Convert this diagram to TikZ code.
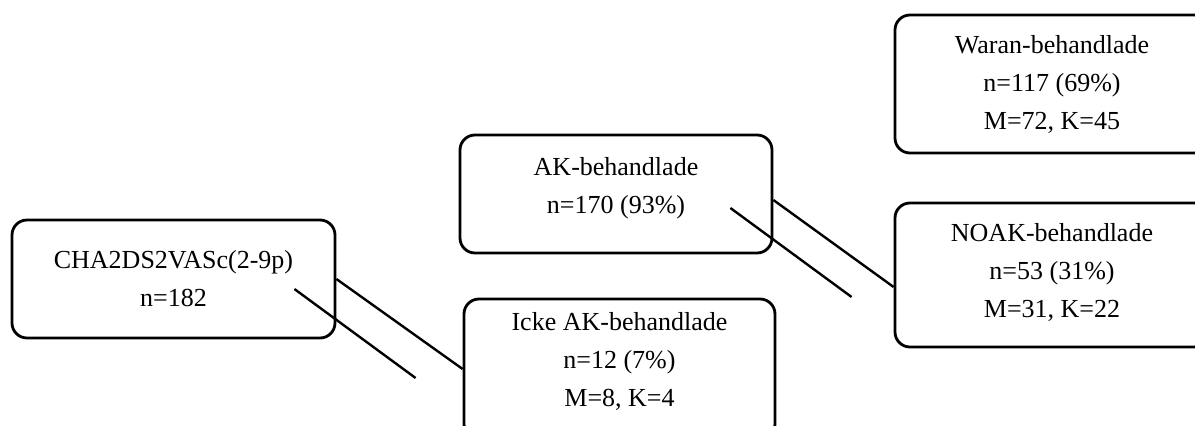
\documentclass[tikz,border=0pt]{standalone}
\usepackage{fontspec}
\setmainfont{Liberation Serif}
\usetikzlibrary{calc}
\begin{document}
\begin{tikzpicture}[x=1pt,y=-1pt,
  box/.style={draw, line width=2.8pt, rounded corners=15pt, align=center,
    inner sep=0pt, font=\fontsize{26}{38}\selectfont},
  link/.style={line width=2.4pt}]
\clip (0,0) rectangle (1195,426);
% boxes
\node[box, minimum width=323pt, minimum height=118pt] (cha) at (173.5,279)
  {CHA2DS2VASc(2-9p)\\n=182};
\node[box, minimum width=312pt, minimum height=118pt, text depth=18pt] (ak) at (616,194)
  {AK-behandlade\\n=170 (93\%)};
\node[box, minimum width=311pt, minimum height=140pt, text depth=20pt] (icke) at (619.5,369)
  {Icke AK-behandlade\\n=12 (7\%)\\M=8, K=4};
\node[box, minimum width=314pt, minimum height=138pt, text depth=4pt] (waran) at (1052,84)
  {Waran-behandlade\\n=117 (69\%)\\M=72, K=45};
\node[box, minimum width=314pt, minimum height=144pt, text depth=9pt] (noak) at (1052,275)
  {NOAK-behandlade\\n=53 (31\%)\\M=31, K=22};
% connectors
\draw[link] (cha.east) -- (icke.west);
\draw[link] ($(cha.east)+(-42,10)$) -- ($(icke.west)+(-47,9)$);
\draw[link] ($(ak.east)+(0,6)$) -- ($(noak.west)+(0,12)$);
\draw[link] ($(ak.east)+(-43,14)$) -- ($(noak.west)+(-42,22)$);
\end{tikzpicture}
\end{document}
